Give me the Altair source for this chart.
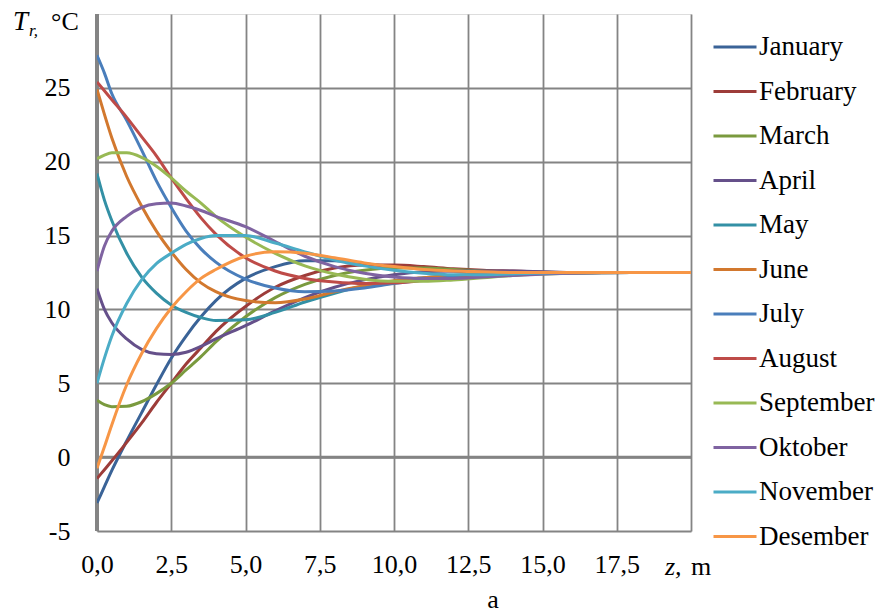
import altair as alt
import pandas as pd

# depth grid, m
Z = [0, 0.25, 0.5, 1, 1.5, 2, 2.5, 3, 3.5, 4, 5, 6, 7, 8, 9, 10, 11, 12, 13, 14, 16, 18, 20]

months = ["January", "February", "March", "April", "May", "June",
          "July", "August", "September", "Oktober", "November", "Desember"]
colors = ["#3A6397", "#9D3C39", "#7A9A3E", "#65508A", "#3390A5", "#D2782E",
          "#4A7EBB", "#BE4B48", "#98B954", "#7F63A1", "#4BACC6", "#F79646"]

january = [-3.1, -2.0, -0.9, 1.1, 3.0, 4.9, 6.7, 8.2, 9.5, 10.6, 12.1, 12.9, 13.3, 13.3, 13.1, 12.9, 12.75, 12.6, 12.5, 12.45, 12.45, 12.5, 12.5]
february = [-1.45, -0.85, -0.25, 1.0, 2.3, 3.7, 5.0, 6.3, 7.4, 8.5, 10.2, 11.5, 12.3, 12.8, 13.0, 13.0, 12.9, 12.75, 12.65, 12.6, 12.5, 12.5, 12.5]
march = [3.85, 3.55, 3.42, 3.45, 3.75, 4.3, 5.0, 5.9, 6.8, 7.8, 9.5, 10.8, 11.7, 12.3, 12.65, 12.8, 12.8, 12.7, 12.6, 12.55, 12.5, 12.5, 12.5]
april = [11.4, 10.0, 9.1, 8.0, 7.3, 7.0, 6.95, 7.1, 7.5, 8.0, 8.9, 9.9, 10.8, 11.5, 12.0, 12.35, 12.55, 12.6, 12.6, 12.6, 12.5, 12.5, 12.5]
may = [19.2, 17.4, 16.0, 13.8, 12.2, 11.1, 10.3, 9.8, 9.45, 9.25, 9.3, 9.8, 10.5, 11.1, 11.6, 11.9, 12.15, 12.3, 12.4, 12.45, 12.5, 12.5, 12.5]
june = [24.9, 23.2, 21.6, 19.0, 17.0, 15.3, 13.9, 12.7, 11.8, 11.2, 10.6, 10.45, 10.7, 11.2, 11.6, 11.95, 12.15, 12.3, 12.4, 12.45, 12.5, 12.5, 12.5]
july = [27.2, 26.0, 24.6, 22.8, 20.8, 18.7, 16.9, 15.3, 14.1, 13.2, 12.05, 11.45, 11.2, 11.25, 11.45, 11.75, 12.0, 12.2, 12.35, 12.45, 12.5, 12.5, 12.5]
august = [25.4, 24.8, 24.2, 23.0, 21.7, 20.4, 18.9, 17.5, 16.2, 15.1, 13.5, 12.6, 12.1, 11.85, 11.75, 11.8, 11.95, 12.1, 12.25, 12.35, 12.5, 12.5, 12.5]
september = [20.2, 20.45, 20.6, 20.6, 20.3, 19.7, 18.9, 18.0, 17.2, 16.3, 14.9, 13.8, 12.95, 12.4, 12.05, 11.9, 11.9, 12.0, 12.15, 12.3, 12.45, 12.5, 12.5]
oktober = [12.6, 14.3, 15.3, 16.3, 16.9, 17.15, 17.2, 17.0, 16.7, 16.3, 15.6, 14.6, 13.6, 12.9, 12.45, 12.2, 12.1, 12.1, 12.2, 12.3, 12.45, 12.5, 12.5]
november = [5.0, 6.7, 8.2, 10.4, 12.0, 13.1, 13.8, 14.4, 14.8, 15.0, 15.0, 14.5, 13.9, 13.35, 12.95, 12.65, 12.45, 12.35, 12.35, 12.4, 12.5, 12.5, 12.5]
desember = [-0.75, 0.7, 2.2, 4.9, 7.0, 8.7, 10.1, 11.2, 12.1, 12.7, 13.6, 13.9, 13.8, 13.5, 13.15, 12.9, 12.7, 12.6, 12.55, 12.5, 12.5, 12.5, 12.5]

series = [january, february, march, april, may, june,
          july, august, september, oktober, november, desember]

x_ticks = [0, 2.5, 5, 7.5, 10, 12.5, 15, 17.5, 20]
y_ticks = [-5, 0, 5, 10, 15, 20, 25]

rows = []
for m, vals in zip(months, series):
    for i, (z, t) in enumerate(zip(Z, vals)):
        rows.append({"z": z, "T": t, "month": m, "i": i})
df = pd.DataFrame(rows)

FONT = "Liberation Serif"
GRID = "#848484"

xscale = alt.Scale(domain=[0, 20], nice=False, zero=False)
yscale = alt.Scale(domain=[-5, 30], nice=False, zero=False)

lines = alt.Chart(df).mark_line(strokeWidth=3, interpolate="monotone", clip=True).encode(
    x=alt.X("z:Q", scale=xscale,
            axis=alt.Axis(values=x_ticks, title=None, grid=True, gridColor=GRID, gridWidth=1.8,
                          domain=False, ticks=False, tickSize=0, labelPadding=20,
                          labelFlush=False, labelOverlap=False,
                          labelExpr="datum.value == 20 ? '' : replace(format(datum.value, '.1f'), '.', ',')",
                          labelFont=FONT, labelFontSize=26, labelColor="black")),
    y=alt.Y("T:Q", scale=yscale,
            axis=alt.Axis(values=y_ticks, title=None, grid=True, gridColor=GRID, gridWidth=1.8,
                          domain=False, ticks=False, tickSize=0, labelPadding=27,
                          labelFlush=False, labelOverlap=False,
                          labelExpr="datum.value < 0 ? '-' + abs(datum.value) : '' + datum.value",
                          labelFont=FONT, labelFontSize=26, labelColor="black")),
    color=alt.Color("month:N", scale=alt.Scale(domain=months, range=colors),
                    legend=alt.Legend(title=None, orient="none", legendX=615, legendY=10,
                                      symbolType="stroke", symbolSize=1849, symbolStrokeWidth=3,
                                      labelFont=FONT, labelFontSize=27, labelColor="black",
                                      labelOffset=1, rowPadding=8.5, padding=0,
                                      labelLimit=300)),
    order="i:Q",
)

zero_rule = alt.Chart(pd.DataFrame({"v": [0]})).mark_rule(color=GRID, strokeWidth=3).encode(
    y=alt.Y("v:Q", scale=yscale))
left_rule = alt.Chart(pd.DataFrame({"v": [0]})).mark_rule(color=GRID, strokeWidth=4).encode(
    x=alt.X("v:Q", scale=xscale))

def label(txt, x, y, size=26, italic=False, align="left"):
    return alt.Chart(pd.DataFrame({"t": [txt]})).mark_text(
        font=FONT, fontSize=size, fontStyle="italic" if italic else "normal",
        align=align, baseline="alphabetic", color="black").encode(
        x=alt.value(x), y=alt.value(y), text="t:N")

texts = [
    label("T", -84, 16, size=27, italic=True),
    label("r,", -68, 22, size=17, italic=True),
    label("°C", -46, 16, size=26),
    label("z,", 568, 561, size=26, italic=True),
    label("m", 594, 561, size=26),
    label("a", 396, 594, size=26, align="center"),
]

chart = alt.layer(zero_rule, left_rule, lines, *texts).properties(
    width=594, height=517,
    autosize=alt.AutoSizeParams(type="none"),
    padding={"left": 89, "top": 6, "right": 186, "bottom": 90},
).configure_view(stroke=None).configure(background="white", font=FONT)

chart.save("out.html", embed_options={"renderer": "svg", "actions": False})
